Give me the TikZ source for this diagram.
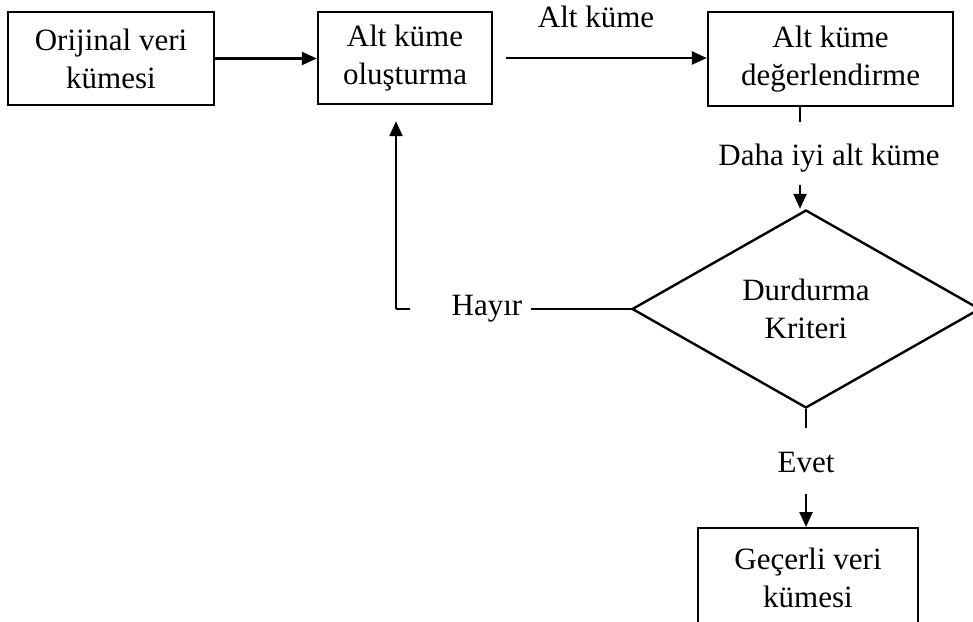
\documentclass[tikz,border=0pt]{standalone}
\usepackage{fontspec}
\setmainfont{Liberation Serif}
\usetikzlibrary{arrows.meta,shapes.geometric}
\begin{document}
\begin{tikzpicture}[x=1pt,y=-1pt,
  txt/.style={font=\fontsize{31}{38}\selectfont, align=center, inner sep=0pt},
  boxnode/.style={txt, draw, line width=2.4pt},
  conn/.style={line width=2.4pt},
  thinconn/.style={line width=1.6pt},
  arr/.style={conn, -{Triangle[length=15pt,width=13pt]}}]
\clip (0,0) rectangle (973,621);
\node[boxnode, minimum width=206pt, minimum height=93pt] (b1) at (111,58.5) {Orijinal veri\\kümesi};
\node[boxnode, minimum width=174pt, minimum height=92pt] (b2) at (405,58) {Alt küme\\oluşturma};
\node[boxnode, minimum width=245pt, minimum height=94pt] (b3) at (830.5,59) {Alt küme\\değerlendirme};
\node[boxnode, minimum width=220pt, minimum height=100pt, anchor=north] (b4) at (808,527) {Geçerli veri\\kümesi};
\node[txt, draw, diamond, line width=2.4pt, minimum width=348pt, minimum height=198pt] (dia) at (806,309) {Durdurma\\Kriteri};
\node[txt] (lab1) at (596,17) {Alt küme};
\node[txt] (lab2) at (829,158) {Daha iyi alt küme};
\node[txt] (lab3) at (487,309) {Hayır};
\node[txt] (lab4) at (806,462) {Evet};
\coordinate (d1) at (800,122);
\coordinate (d2) at (800,185);
\coordinate (h1) at (410,309);
\coordinate (h2) at (396,309);
\coordinate (e1) at (806,428);
\coordinate (e2) at (806,494);
% connectors
\draw[arr] (b1.east) -- (b1.east -| b2.west);
\draw[arr] ([xshift=13pt]b2.east) -- (b2.east -| b3.west);
\draw[conn] (b3.south -| d1) -- (d1);
\draw[arr] (d2) -- (d2 |- dia.north);
\draw[thinconn] (dia.west) -- ([xshift=8pt]lab3.east);
\draw[thinconn] (h1) -- (h2);
\draw[arr] (h2) -- ([yshift=-16pt]b2.south -| h2);
\draw[conn] (dia.south) -- (e1);
\draw[arr] (e2) -- (e2 |- b4.north);
\end{tikzpicture}
\end{document}
